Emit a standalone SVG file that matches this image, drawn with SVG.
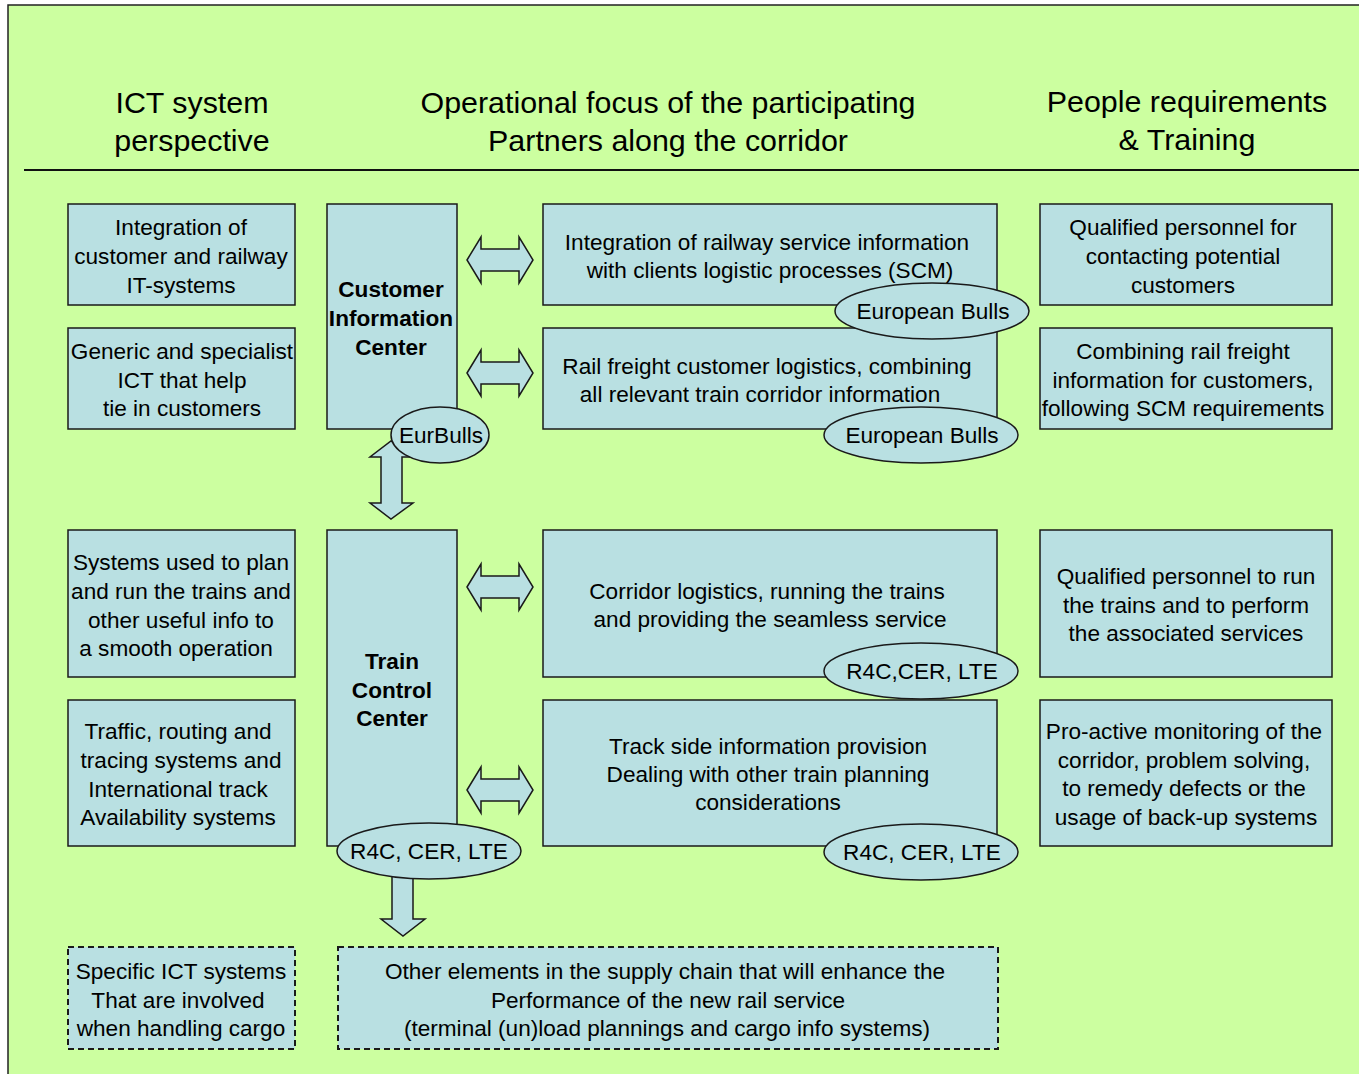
<svg xmlns="http://www.w3.org/2000/svg" width="1359" height="1074" viewBox="0 0 1359 1074">
<defs>
<style>
.bg{fill:#ccffa0;stroke:#222;stroke-width:1.5}
.box{fill:#b9e0e2;stroke:#1a1a1a;stroke-width:1.5}
.dash{fill:#b9e0e2;stroke:#1a1a1a;stroke-width:2;stroke-dasharray:6,4}
.ell{fill:#b9e0e2;stroke:#1a1a1a;stroke-width:1.5}
.arr{fill:#b9e0e2;stroke:#1a1a1a;stroke-width:1.5;stroke-linejoin:miter}
text{font-family:"Liberation Sans",Arial,sans-serif;fill:#000;text-anchor:middle}
.h{font-size:30.4px}
.t{font-size:22.6px}
.b{font-size:22.6px;font-weight:bold}
</style>
</defs>
<rect x="0" y="0" width="1359" height="1074" fill="#ffffff"/>
<rect class="bg" x="8" y="5" width="1360" height="1080"/>
<line x1="24" y1="170" x2="1359" y2="170" stroke="#111" stroke-width="2"/>
<g id="headers">
<text class="h" x="192" y="113">ICT system</text>
<text class="h" x="192" y="151">perspective</text>
<text class="h" x="668" y="113">Operational focus of the participating</text>
<text class="h" x="668" y="151">Partners along the corridor</text>
<text class="h" x="1187" y="112">People requirements</text>
<text class="h" x="1187" y="150">&amp; Training</text>
</g>
<g id="connectors">
<path class="arr" d="M467,260 L481,237 L481,249 L519,249 L519,237 L533,260 L519,283 L519,271 L481,271 L481,283 Z"/>
<path class="arr" d="M467,373 L481,350 L481,362 L519,362 L519,350 L533,373 L519,396 L519,384 L481,384 L481,396 Z"/>
<path class="arr" d="M467,587 L481,564 L481,576 L519,576 L519,564 L533,587 L519,610 L519,598 L481,598 L481,610 Z"/>
<path class="arr" d="M467,790 L481,767 L481,779 L519,779 L519,767 L533,790 L519,813 L519,801 L481,801 L481,813 Z"/>
<path class="arr" d="M391,441 L413,457 L402,457 L402,503 L413,503 L391,519 L370,503 L381,503 L381,457 L370,457 Z"/>
<path class="arr" d="M392,872 L413,872 L413,919 L425,919 L403,936 L381,919 L392,919 Z"/>
</g>
<g id="ict-1"><rect class="box" x="68" y="204" width="227" height="101"/>
<text class="t" x="181" y="235">Integration of</text><text class="t" x="181" y="264">customer and railway</text><text class="t" x="181" y="293">IT-systems</text></g>
<g id="ict-2"><rect class="box" x="68" y="328" width="227" height="101"/>
<text class="t" x="182" y="359">Generic and specialist</text><text class="t" x="182" y="388">ICT that help</text><text class="t" x="182" y="416">tie in customers</text></g>
<g id="ict-3"><rect class="box" x="68" y="530" width="227" height="147"/>
<text class="t" x="181" y="570">Systems used to plan</text><text class="t" x="181" y="599">and run the trains and</text><text class="t" x="181" y="628">other useful info to</text><text class="t" x="176" y="656">a smooth operation</text></g>
<g id="ict-4"><rect class="box" x="68" y="700" width="227" height="146"/>
<text class="t" x="178" y="739">Traffic, routing and</text><text class="t" x="181" y="768">tracing systems and</text><text class="t" x="178" y="797">International track</text><text class="t" x="178" y="825">Availability systems</text></g>
<g id="ict-5"><rect class="dash" x="68" y="947" width="227" height="102"/>
<text class="t" x="181" y="979">Specific ICT systems</text><text class="t" x="178" y="1008">That are involved</text><text class="t" x="181" y="1036">when handling cargo</text></g>
<g id="cic"><rect class="box" x="327" y="204" width="130" height="225"/>
<text class="b" x="391" y="297">Customer</text><text class="b" x="391" y="326">Information</text><text class="b" x="391" y="355">Center</text></g>
<g id="tcc"><rect class="box" x="327" y="530" width="130" height="316"/>
<text class="b" x="392" y="669">Train</text><text class="b" x="392" y="698">Control</text><text class="b" x="392" y="726">Center</text></g>
<g id="op-1"><rect class="box" x="543" y="204" width="454" height="101"/>
<text class="t" x="767" y="250">Integration of railway service information</text><text class="t" x="770" y="278">with clients logistic processes (SCM)</text></g>
<g id="op-2"><rect class="box" x="543" y="328" width="454" height="101"/>
<text class="t" x="767" y="374">Rail freight customer logistics, combining</text><text class="t" x="760" y="402">all relevant train corridor information</text></g>
<g id="op-3"><rect class="box" x="543" y="530" width="454" height="147"/>
<text class="t" x="767" y="599">Corridor logistics, running the trains</text><text class="t" x="770" y="627">and providing the seamless service</text></g>
<g id="op-4"><rect class="box" x="543" y="700" width="454" height="146"/>
<text class="t" x="768" y="754">Track side information provision</text><text class="t" x="768" y="782">Dealing with other train planning</text><text class="t" x="768" y="810">considerations</text></g>
<g id="op-5"><rect class="dash" x="338" y="947" width="660" height="102"/>
<text class="t" x="665" y="979">Other elements in the supply chain that will enhance the</text><text class="t" x="668" y="1008">Performance of the new rail service</text><text class="t" x="667" y="1036">(terminal (un)load plannings and cargo info systems)</text></g>
<g id="ppl-1"><rect class="box" x="1040" y="204" width="292" height="101"/>
<text class="t" x="1183" y="235">Qualified personnel for</text><text class="t" x="1183" y="264">contacting potential</text><text class="t" x="1183" y="293">customers</text></g>
<g id="ppl-2"><rect class="box" x="1040" y="328" width="292" height="101"/>
<text class="t" x="1183" y="359">Combining rail freight</text><text class="t" x="1183" y="388">information for customers,</text><text class="t" x="1183" y="416">following SCM requirements</text></g>
<g id="ppl-3"><rect class="box" x="1040" y="530" width="292" height="147"/>
<text class="t" x="1186" y="584">Qualified personnel to run</text><text class="t" x="1186" y="613">the trains and to perform</text><text class="t" x="1186" y="641">the associated services</text></g>
<g id="ppl-4"><rect class="box" x="1040" y="700" width="292" height="146"/>
<text class="t" x="1184" y="739">Pro-active monitoring of the</text><text class="t" x="1184" y="768">corridor, problem solving,</text><text class="t" x="1184" y="796">to remedy defects or the</text><text class="t" x="1186" y="825">usage of back-up systems</text></g>
<g id="tag-eb1"><ellipse class="ell" cx="932" cy="311" rx="97" ry="28"/><text class="t" x="933" y="319">European Bulls</text></g>
<g id="tag-eb2"><ellipse class="ell" cx="921" cy="435" rx="97" ry="28"/><text class="t" x="922" y="443">European Bulls</text></g>
<g id="tag-eurbulls"><ellipse class="ell" cx="440" cy="435" rx="49" ry="28"/><text class="t" x="441" y="443">EurBulls</text></g>
<g id="tag-r4c1"><ellipse class="ell" cx="921" cy="671" rx="97" ry="28"/><text class="t" x="922" y="679">R4C,CER, LTE</text></g>
<g id="tag-r4c2"><ellipse class="ell" cx="921" cy="852" rx="97" ry="28"/><text class="t" x="922" y="860">R4C, CER, LTE</text></g>
<g id="tag-r4c3"><ellipse class="ell" cx="429" cy="851" rx="92" ry="28"/><text class="t" x="429" y="859">R4C, CER, LTE</text></g>
</svg>
